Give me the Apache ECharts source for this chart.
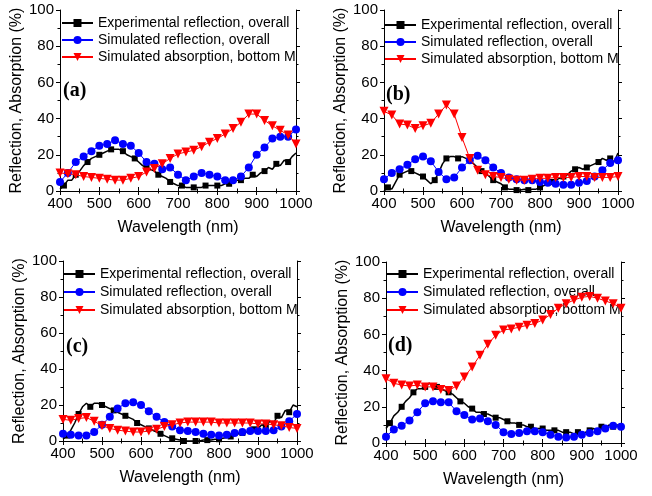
<!DOCTYPE html>
<html><head><meta charset="utf-8">
<script src="https://cdn.jsdelivr.net/npm/echarts@6/dist/echarts.min.js"></script>
<style>html,body{margin:0;padding:0;background:#fff}#c{width:652px;height:496px}</style>
</head><body><div id="c"></div>
<script>
// ---- data ----
const seriesNames = ['Experimental reflection, overall', 'Simulated reflection, overall', 'Simulated absorption, bottom M'];
const panelLabels = ['(a)', '(b)', '(c)', '(d)'];
const xTicks = [400, 500, 600, 700, 800, 900, 1000];
const yTicks = [0, 20, 40, 60, 80, 100];
const xAxisName = 'Wavelength (nm)';
const yAxisName = 'Reflection, Absorption (%)';

const expWl = [400,410,420,430,440,450,460,470,480,490,500,510,520,530,540,550,560,570,580,590,600,610,620,630,640,650,660,670,680,690,700,710,720,730,740,750,760,770,780,790,800,810,820,830,840,850,860,870,880,890,900,910,920,930,940,950,960,970,980,990,1000];
const simWl = [400,420,440,460,480,500,520,540,560,580,600,620,640,660,680,700,720,740,760,780,800,820,840,860,880,900,920,940,960,980,1000];

const expA = [1,3,6,6,9,11,14,16,18,19, 20,21,22,23,23,23,22,20,19,18, 16,14,13,12,11,9,8,7,5,4, 3,3,2,2,2,2,2,3,3,3, 3,3,4,4,5,6,6,7,7,9, 8,10,11,13,12,15,14,17,16,19, 21];
const reflA = [5,10,16,19,22,25,26,28,26,25, 21,16,15,12,13,9,6,8,10,9, 8,6,6,8,13,20,24,29,30,30, 34];
const absA = [10,9.5,9,8,7.5,7,6.5,6,6,7, 8,10.5,12.5,15,18,20.5,21.5,22.5,24.5,27, 29,31.5,34.5,38,42.5,42.5,39,36,33.5,31, 26];

const expB = [0,2,1,5,9,10,11,11,10,9, 8,6,4,6,10,15,18,19,19,18, 19,18,17,15,13,11,10,8,6,5, 4,2,1,1,0.5,0.5,1,0.5,1,1, 2,3,4,5,6,7,8,9,11,12, 13,12,13,14,15,16,18,17,18,16, 21];
const reflB = [6.5,10,12,14.5,17.5,19,16.5,10.5,6.5,7.5, 13,17,19.5,17,13,10,7.5,6.5,6,6, 5,4.5,4,3.5,3.5,4.5,5.5,8,11.5,15.5, 17];
const absB = [44,42,37,36.5,34.5,36,37.5,42.5,47.5,42.5, 29.5,18,11.5,9,8,7.5,6.5,6,6,6.5, 7,7,7.5,7.5,7.5,8,8,7.5,7.5,7.5, 8];

const expC = [1,3,6,10,15,19,21,19,21,21, 20,19,18,17,16,15,14,13,12,10, 9,8,7,6,5,4,3,2,1.5,1, 0.5,0,0,0,0,0,0.5,0.5,0.5,1, 1,1.5,2,2.5,3,4,4.5,5,6,6.5, 7,9,8,11,10,14,13,17,16,20, 19];
const reflC = [4,3.5,3,3,5,9,13.5,18,21,21.5, 20,16.5,13.5,10.5,8,6,5.5,5,4,3.5, 3,3.5,4.5,5,5.5,5.5,5.5,6,8,11, 15];
const absC = [12,11.5,12.5,13,11,8.5,7,6,5.5,5, 5,5.5,6.5,8,9,10,10.5,10.5,10.5,10.5, 10,10,10,10,10,9.5,9.5,9,8.5,7.5, 7];

const expD = [8,11,15,17,20,23,25,28,30,30, 31,33,32,31,30,29,28,27,25,23, 22,20,19,17,17,16,16,15,14,14, 13,12,11,11,10,10,9,9,8,8, 8,7,7,7,7,6,6,6,5,6, 5,6,7,8,7,9,8,10,9,10, 10];
const reflD = [3.5,7.5,9.5,12.5,17,22,23,22.5,22.5,17.5, 15.5,13,13.5,12,10,6,5,5.5,6.5,6.5, 6,4.5,3.5,3,3.5,4.5,5.5,6.5,8,9.5, 9];
const absD = [35.5,33,32,31.5,32,31,31,29.5,29,31.5, 36.5,42,48.5,54.5,59.5,62.5,63,64,65,66, 68,71,74.5,77,79,80.5,81,80,78.5,77, 74.5];

const panelExp = [expA, expB, expC, expD];
const panelRefl = [reflA, reflB, reflC, reflD];
const panelAbs = [absA, absB, absC, absD];

// ---- layout ----
const grids = [
  {left: 60, top: 10, width: 236, height: 181},
  {left: 384, top: 10, width: 234, height: 181},
  {left: 63, top: 261, width: 234, height: 180},
  {left: 386, top: 262, width: 235, height: 181}
];
const legendPos = [
  {left: 61, top: 16, gap: 3},
  {left: 384, top: 18, gap: 3},
  {left: 63, top: 267, gap: 4},
  {left: 386, top: 267, gap: 4}
];
const labelPos = [[63, 92], [386, 96], [66, 348], [388, 347]];

const FONT = 'Liberation Sans, Arial, sans-serif';
const pair = (xs, ys) => xs.map((x, i) => [x, ys[i]]);
const plain = v => String(v);

const option = {
  animation: false,
  backgroundColor: '#fff',
  grid: [], xAxis: [], yAxis: [], series: [], legend: [], graphic: []
};

const axisLine = {show: true, lineStyle: {color: '#000', width: 1}};
grids.forEach((g, p) => {
  option.grid.push(Object.assign({containLabel: false}, g));
  const xb = {
    type: 'value', gridIndex: p, position: 'bottom', min: xTicks[0], max: xTicks[xTicks.length - 1], interval: 100,
    axisLine, splitLine: {show: false},
    axisTick: {show: true, inside: false, length: 4, lineStyle: {color: '#000'}},
    minorTick: {show: true, splitNumber: 2, length: 2.5, lineStyle: {color: '#000'}},
    axisLabel: {color: '#000', fontSize: 15, fontFamily: FONT, margin: 5, formatter: plain},
    name: xAxisName, nameLocation: 'middle', nameGap: 29,
    nameTextStyle: {color: '#000', fontSize: 16, fontFamily: FONT}
  };
  const xt = Object.assign({}, xb, {position: 'top', axisLabel: {show: false}, name: ''});
  const yl = {
    type: 'value', gridIndex: p, position: 'left', min: yTicks[0], max: yTicks[yTicks.length - 1], interval: 20,
    axisLine, splitLine: {show: false},
    axisTick: {show: true, inside: false, length: 4, lineStyle: {color: '#000'}},
    minorTick: {show: true, splitNumber: 2, length: 2.5, lineStyle: {color: '#000'}},
    axisLabel: {color: '#000', fontSize: 15, fontFamily: FONT, margin: 6, formatter: plain},
    name: yAxisName, nameLocation: 'middle', nameGap: 34,
    nameTextStyle: {color: '#000', fontSize: 16, fontFamily: FONT}
  };
  const yr = Object.assign({}, yl, {position: 'right', axisLabel: {show: false}, name: ''});
  option.xAxis.push(xb, xt);
  option.yAxis.push(yl, yr);

  const xi = p * 2, yi = p * 2;
  // experimental: noisy line, square markers every third point
  option.series.push({
    name: seriesNames[0], type: 'line', xAxisIndex: xi, yAxisIndex: yi,
    symbol: 'rect', symbolSize: 6, showSymbol: true,
    data: expWl.map((x, i) => (i % 3 === 1) ? {value: [x, panelExp[p][i]]} : {value: [x, panelExp[p][i]], symbol: 'none'}),
    lineStyle: {color: '#000', width: 1.5}, itemStyle: {color: '#000'}, z: 2
  });
  option.series.push({
    name: seriesNames[1], type: 'line', xAxisIndex: xi, yAxisIndex: yi,
    symbol: 'circle', symbolSize: 8,
    data: pair(simWl, panelRefl[p]),
    lineStyle: {color: '#0000ff', width: 1}, itemStyle: {color: '#0000ff'}, z: 3
  });
  option.series.push({
    name: seriesNames[2], type: 'line', xAxisIndex: xi, yAxisIndex: yi,
    symbol: 'triangle', symbolRotate: 180, symbolSize: 9,
    data: pair(simWl, panelAbs[p]),
    lineStyle: {color: '#ff0000', width: 1}, itemStyle: {color: '#ff0000'}, z: 4
  });
  option.legend.push({
    orient: 'vertical', left: legendPos[p].left, top: legendPos[p].top,
    itemWidth: 31, itemHeight: 10, itemGap: legendPos[p].gap,
    padding: 0, selectedMode: false,
    textStyle: {color: '#000', fontSize: 14, fontFamily: FONT, lineHeight: 14},
    data: seriesNames
  });
  option.graphic.push({
    type: 'text', left: labelPos[p][0], top: labelPos[p][1] - 11,
    style: {text: panelLabels[p], fill: '#000', font: 'bold 20px "Liberation Serif", "Times New Roman", serif'}
  });
});

const chart = echarts.init(document.getElementById('c'), null, {renderer: 'canvas'});
chart.setOption(option);
</script>
</body></html>
